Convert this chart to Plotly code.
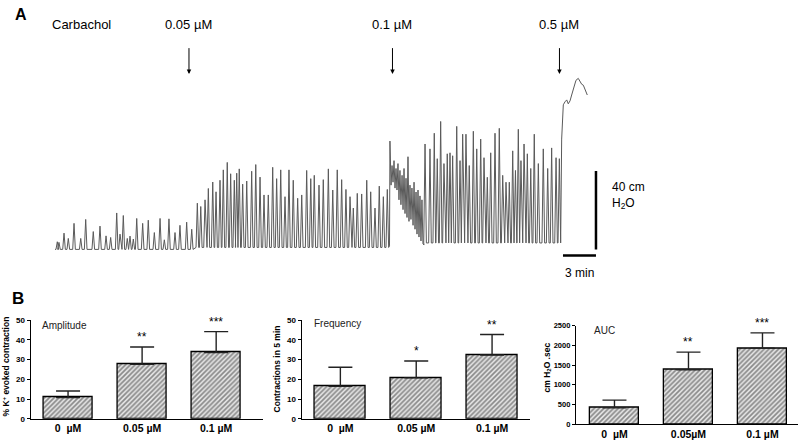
import plotly.graph_objects as go

# ---------------- Panel A data (time in min, pressure in cm H2O) ----------------
seg1_times = [0.21, 0.36, 0.82, 1.21, 1.73, 2.34, 2.79, 3.48, 4.09, 4.64, 5.06, 5.61, 5.91, 6.21,
              6.57, 6.82, 7.12, 7.43, 7.97, 8.48, 9.03, 9.55, 9.94, 10.36, 10.91, 11.36, 11.97, 12.43]
seg1_peaks = [3.9, 3.6, 8.3, 5.6, 13.3, 5.6, 15.3, 9.1, 11.9, 6.9, 6.1, 18.6, 7.8, 17.3,
              5.6, 6.8, 5.3, 15.8, 13.3, 14.9, 8.6, 15.8, 4.9, 15.6, 8.6, 12.3, 13.9, 10.3]
seg1_base = 0.0

seg2_times = [12.94, 13.25, 13.64, 13.94, 14.34, 14.64, 15.00, 15.30, 15.66, 15.97, 16.30, 16.52,
              16.75, 17.06, 17.43, 17.88, 18.25, 18.64, 19.00, 19.39, 19.79, 20.15, 20.52, 20.91,
              21.27, 21.66, 22.06, 22.43, 22.88, 23.25, 23.57, 24.00, 24.39, 24.85, 25.25, 25.66,
              26.06, 26.45, 26.82, 27.12, 27.48, 27.88, 28.34, 28.70, 29.09, 29.48, 29.85, 30.21]
seg2_peaks = [23.6, 21.9, 25.3, 31.1, 34.4, 29.4, 35.3, 40.6, 44.4, 38.6, 35.3, 38.9,
              41.1, 33.3, 34.9, 39.9, 43.3, 36.9, 27.8, 27.8, 41.9, 36.1, 40.6, 26.9,
              40.6, 35.3, 26.1, 27.8, 40.3, 36.1, 37.8, 32.8, 35.6, 41.1, 30.3, 40.6,
              35.6, 30.6, 26.9, 21.1, 28.6, 28.3, 35.3, 29.4, 21.1, 32.3, 26.9, 30.6]
seg2_base = 1.0

tonic_times = [30.41, 30.45, 30.55, 30.64, 30.73, 30.82, 30.91, 31.00, 31.09, 31.18, 31.27, 31.36,
               31.45, 31.55, 31.64, 31.73, 31.82, 31.91, 32.00, 32.09, 32.18, 32.27, 32.36, 32.45,
               32.55, 32.64, 32.73, 32.82, 32.91, 33.00, 33.09, 33.18, 33.27, 33.36, 33.45, 33.55]
tonic_press = [1.8, 55.3, 32.8, 42.8, 34.3, 45.3, 31.3, 41.3, 30.3, 43.8, 25.3, 40.3,
               22.8, 37.8, 20.3, 41.3, 18.3, 36.3, 16.3, 47.3, 14.3, 32.8, 15.3, 31.3,
               12.3, 34.3, 10.3, 29.3, 7.8, 30.3, 6.3, 27.3, 4.3, 25.3, 2.8, 2.3]

seg3_times = [33.64, 34.09, 34.48, 34.75, 35.06, 35.36, 35.66, 35.91, 36.15, 36.52, 36.82, 37.06,
              37.36, 37.66, 38.03, 38.34, 38.70, 39.00, 39.30, 39.61, 40.00, 40.39, 40.70, 41.00,
              41.30, 41.61, 41.86, 42.12, 42.36, 42.64, 42.94, 43.25, 43.57, 43.94, 44.39, 44.79,
              45.15, 45.55, 45.85]
seg3_peaks = [53.8, 51.3, 59.3, 46.3, 65.3, 43.8, 48.8, 49.3, 47.8, 62.8, 45.3, 58.8,
              58.8, 42.8, 60.3, 51.3, 56.3, 46.8, 36.8, 49.3, 59.3, 61.8, 37.8, 34.3,
              34.3, 50.3, 40.3, 61.3, 45.3, 53.8, 48.8, 41.3, 58.8, 43.8, 51.3, 41.3,
              51.8, 46.8, 46.3]
seg3_base = 3.3

rise_times = [45.97, 46.06, 46.15, 46.21, 46.36, 46.52, 46.66, 46.82, 46.97, 47.18, 47.36, 47.57,
              47.73, 47.88, 48.03, 48.18, 48.33, 48.39]
rise_press = [3.3, 56.3, 68.8, 73.8, 75.3, 76.3, 74.3, 75.8, 78.8, 82.8, 86.3, 87.3,
              85.3, 84.3, 83.8, 81.8, 79.3, 78.8]

dose_labels = ["0.05 µM", "0.1 µM", "0.5 µM"]
dose_times = [12.18, 30.68, 45.86]
scale_press = 40   # cm H2O
scale_time = 3     # min

# ---------------- Panel B data ----------------
categories = ["0  µM", "0.05 µM", "0.1 µM"]
categories_auc = ["0  µM", "0.05µM", "0.1 µM"]
amp_mean = [10.7, 27.6, 33.6]
amp_sem = [3.4, 8.8, 10.6]
amp_sig = ["", "**", "***"]
freq_mean = [16.5, 20.7, 32.3]
freq_sem = [9.6, 8.6, 10.4]
freq_sig = ["", "*", "**"]
auc_mean = [415, 1383, 1929]
auc_sem = [198, 447, 388]
auc_sig = ["", "**", "***"]

# ---------------- build trace ----------------
xs, ys = [0.0], [seg1_base]
W = 0.12


def add_spikes(times, peaks, base):
    for t, p in zip(times, peaks):
        xs.extend([t - W, t, t + W])
        ys.extend([base, p, base])


add_spikes(seg1_times, seg1_peaks, seg1_base)
add_spikes(seg2_times, seg2_peaks, seg2_base)
xs.extend(tonic_times)
ys.extend(tonic_press)
add_spikes(seg3_times, seg3_peaks, seg3_base)
xs.extend(rise_times)
ys.extend(rise_press)

fig = go.Figure()
fig.add_trace(go.Scatter(x=xs, y=ys, mode="lines", line=dict(color="#5a5a5a", width=1),
                         xaxis="x", yaxis="y", hoverinfo="skip"))

FONT = "Liberation Sans, Arial, sans-serif"
LABEL_Y = 115.0   # cm-H2O level of the dose labels (top of panel A)
ann = []
# Panel A labels
ann.append(dict(text="<b>A</b>", x=0.016, y=1 - 11 / 444, xref="paper", yref="paper", showarrow=False,
                yanchor="middle", font=dict(size=16, family=FONT, color="black")))
ann.append(dict(text="Carbachol", x=2.41, y=LABEL_Y, xref="x", yref="y", showarrow=False,
                yanchor="middle", font=dict(size=13, family=FONT, color="black")))
for lab, t in zip(dose_labels, dose_times):
    ann.append(dict(text=lab, x=t, y=LABEL_Y, xref="x", yref="y", showarrow=False, yanchor="middle",
                    font=dict(size=13, family=FONT, color="black")))
    ann.append(dict(text="", x=t, y=89.5, ax=t, ay=103.5, xref="x", yref="y", axref="x", ayref="y",
                    showarrow=True, arrowhead=2, arrowsize=0.9, arrowwidth=1, arrowcolor="black",
                    standoff=0))
# scale bar text
ann.append(dict(text="40 cm<br>H<sub>2</sub>O", x=50.45, y=27.5, xref="x", yref="y", showarrow=False,
                xanchor="left", yanchor="middle", align="left", font=dict(size=12, family=FONT, color="black")))
ann.append(dict(text="3 min", x=47.7, y=-11.8, xref="x", yref="y", showarrow=False, yanchor="middle",
                font=dict(size=12, family=FONT, color="black")))

shapes = [
    dict(type="line", xref="x", yref="y", x0=49.18, x1=49.18, y0=0, y1=scale_press,
         line=dict(color="black", width=2.5)),
    dict(type="line", xref="x", yref="y", x0=49.18 - scale_time, x1=49.18, y0=-3.1, y1=-3.1,
         line=dict(color="black", width=2.5)),
]

# Panel B
ann.append(dict(text="<b>B</b>", x=0.013, y=1 - 301 / 444, xref="paper", yref="paper", showarrow=False,
                yanchor="middle", font=dict(size=17, family=FONT, color="black")))

panels = [
    ("x2", "y2", amp_mean, amp_sem, amp_sig, "Amplitude", 40, 328),
    ("x3", "y3", freq_mean, freq_sem, freq_sig, "Frequency", 312, 326.5),
    ("x4", "y4", auc_mean, auc_sem, auc_sig, "AUC", 592, 333),
]
for xa, ya, mean, sem, sig, title, tx, ty in panels:
    fig.add_trace(go.Bar(
        x=[0, 1, 2], y=mean, width=0.667, xaxis=xa, yaxis=ya,
        marker=dict(color="white", line=dict(color="black", width=1.3),
                    pattern=dict(shape="/", fgcolor="#2e2e2e", bgcolor="#e6e6e6", size=3.4, solidity=0.5)),
        error_y=dict(type="data", array=sem, arrayminus=[0, 0, 0], symmetric=False,
                     color="#222", thickness=1.4, width=12),
        hoverinfo="skip"))
    for i, s in enumerate(sig):
        if s:
            ann.append(dict(text=s, x=i, y=mean[i] + sem[i], xref=xa, yref=ya, showarrow=False,
                            yanchor="bottom", yshift=1,
                            font=dict(size=12, family=FONT, color="black")))
    ann.append(dict(text=title, x=tx / 800, y=1 - ty / 444, xref="paper", yref="paper", showarrow=False,
                    xanchor="left", yanchor="middle", font=dict(size=10, family=FONT, color="#222")))

# y titles for panel B
ytitles = [("<b>% K<sup>+</sup> evoked contraction</b>", 6, 370),
           ("<b>Contractions in 5 min</b>", 277, 373),
           ("<b>cm H<sub>2</sub>O .sec</b>", 547, 371)]
for txt, px, py in ytitles:
    ann.append(dict(text=txt, x=px / 800, y=1 - py / 444, xref="paper", yref="paper", textangle=-90,
                    showarrow=False, xanchor="center", yanchor="middle",
                    font=dict(size=8.5, family=FONT, color="black")))

tickfont_y = dict(size=8, family=FONT, color="black", weight="bold")
tickfont_y3 = dict(size=7.5, family=FONT, color="black", weight="bold")
tickfont_x = dict(size=10.5, family=FONT, color="black", weight="bold")


def yax(domain, rng, dtick, tf):
    return dict(domain=domain, range=rng, dtick=dtick, showline=True, linewidth=1.3, linecolor="black",
                ticks="outside", ticklen=3, tickwidth=1, tickcolor="black", showgrid=False, zeroline=False,
                tickfont=tf, fixedrange=True)


def xax(domain, rng, anchor, cats):
    return dict(domain=domain, range=rng, anchor=anchor, tickvals=[0, 1, 2], ticktext=cats, showline=True,
                linewidth=1.3, linecolor="black", ticks="", showgrid=False, zeroline=False,
                tickfont=tickfont_x, fixedrange=True)


fig.update_layout(
    width=800, height=444, margin=dict(l=0, r=0, t=0, b=0),
    paper_bgcolor="white", plot_bgcolor="white", showlegend=False,
    xaxis=dict(domain=[0, 1], range=[-5, 67.727], visible=False, fixedrange=True),
    yaxis=dict(domain=[0.38, 1], range=[-12.4, 125.25], visible=False, fixedrange=True),
    xaxis2=xax([0.0384, 0.329], [-0.504, 2.635], "y2", categories),
    yaxis2=dict(yax([0.0466, 0.2732], [0, 50], 10, tickfont_y), anchor="x2"),
    xaxis3=xax([0.3771, 0.6625], [-0.51, 2.5], "y3", categories),
    yaxis3=dict(yax([0.0466, 0.2732], [0, 50], 10, tickfont_y), anchor="x3"),
    xaxis4=xax([0.72, 0.9975], [-0.52, 2.48], "y4", categories_auc),
    yaxis4=dict(yax([0.0338, 0.2606], [0, 2500], 500, tickfont_y3), anchor="x4"),
    annotations=ann, shapes=shapes, bargap=0,
)

fig.write_html("out.html", config={"displayModeBar": False},
               post_script="document.body.style.margin='0';document.body.style.overflow='hidden';")
